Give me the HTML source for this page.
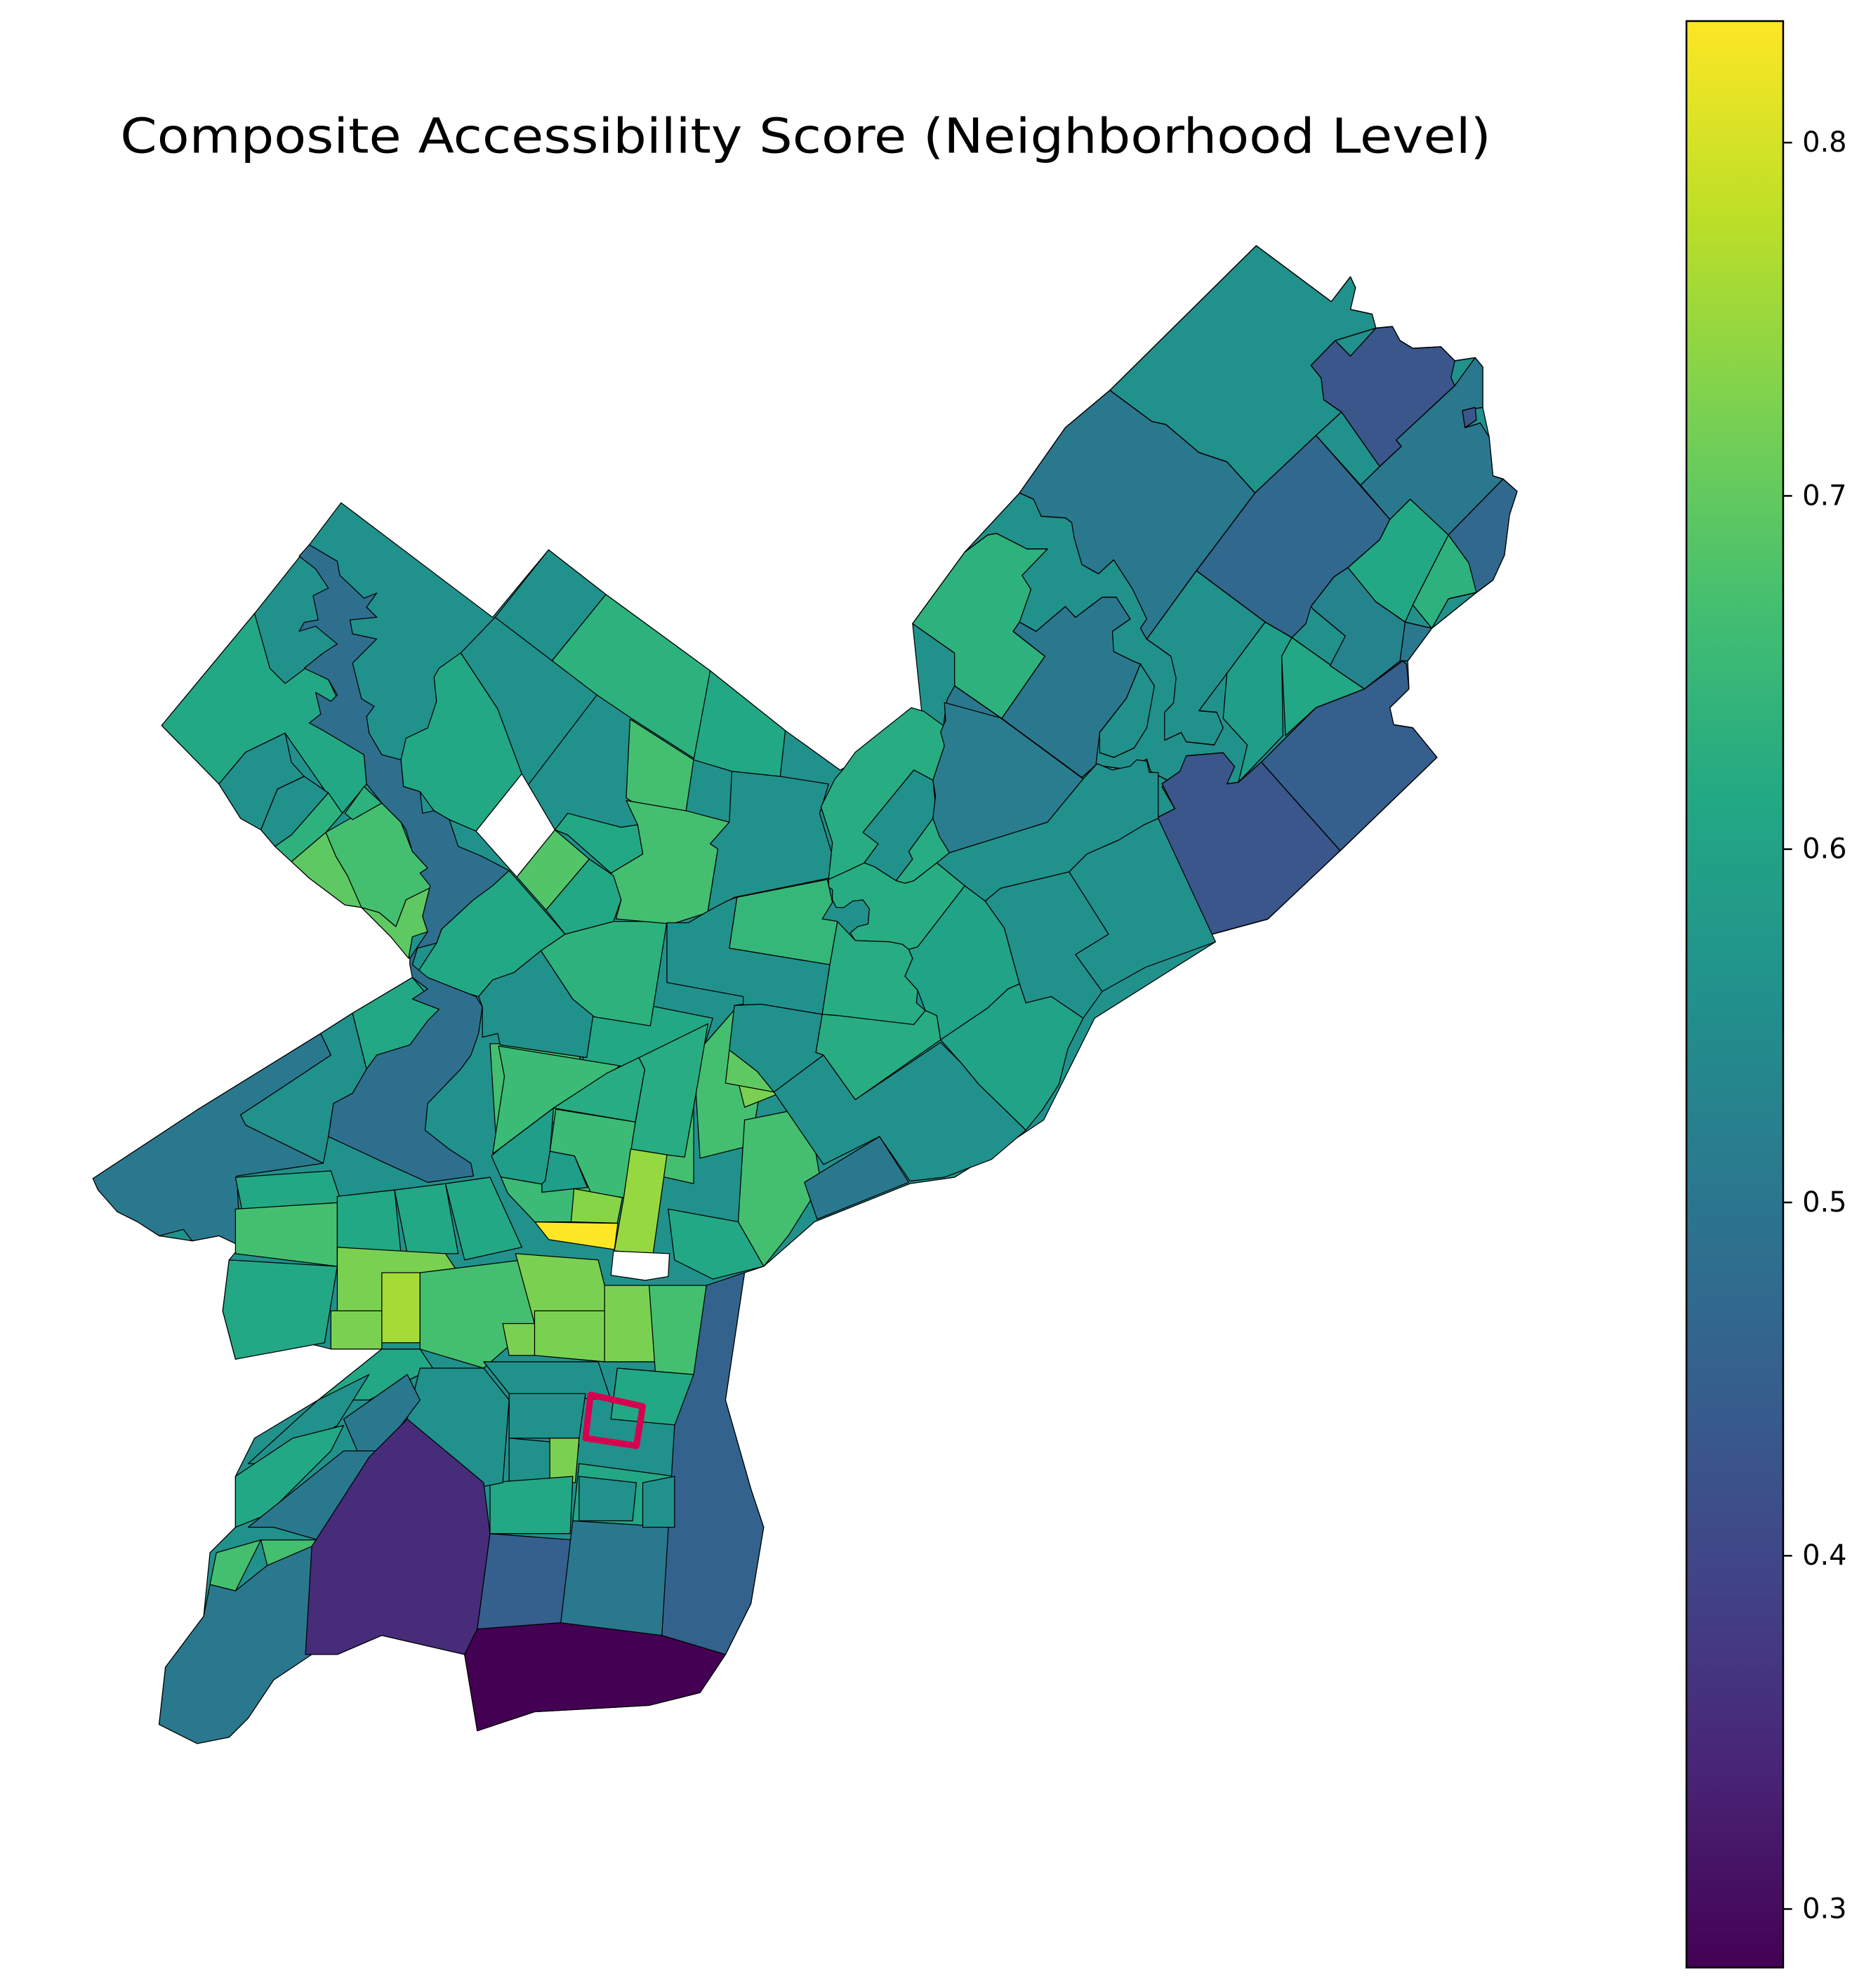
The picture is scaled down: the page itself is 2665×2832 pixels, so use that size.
<!DOCTYPE html>
<html><head><meta charset="utf-8"><style>html,body{margin:0;padding:0;background:#fff}svg{display:block}</style></head>
<body>
<svg width="2665" height="2832" viewBox="0 0 1470 1562" xmlns="http://www.w3.org/2000/svg" font-family="'DejaVu Sans','Liberation Sans',sans-serif">
<defs>
<linearGradient id="vir" x1="0" y1="1" x2="0" y2="0">
<stop offset="0" stop-color="#440154"/><stop offset="0.1" stop-color="#482475"/><stop offset="0.2" stop-color="#414487"/><stop offset="0.3" stop-color="#355f8d"/><stop offset="0.4" stop-color="#2a788e"/><stop offset="0.5" stop-color="#21918c"/><stop offset="0.6" stop-color="#22a884"/><stop offset="0.7" stop-color="#44bf70"/><stop offset="0.8" stop-color="#7ad151"/><stop offset="0.9" stop-color="#bddf26"/><stop offset="1" stop-color="#fde725"/>
</linearGradient>
</defs>
<text x="633" y="120" font-size="38" text-anchor="middle" textLength="1077" lengthAdjust="spacingAndGlyphs">Composite Accessibility Score (Neighborhood Level)</text>
<g stroke="#000" stroke-width="0.7" stroke-linejoin="round">
<!-- base (west/central) -->
<path fill="#21918c" d="M740,545 L800,560 L860,620 L900,660 L955,740 L860,800 L820,880 L790,900 L750,925 L715,930 L640,960 L600,995 L585,1000 L570,1100 L590,1170 L600,1200 L590,1260 L570,1300 L550,1330 L510,1340 L420,1345 L375,1360 L365,1300 L300,1285 L265,1300 L240,1300 L215,1320 L195,1350 L180,1365 L155,1370 L125,1355 L130,1310 L160,1270 L165,1220 L185,1200 L185,1160 L200,1130 L250,1100 L300,1060 L260,1060 L240,1055 L185,1068 L175,1030 L180,990 L189,979 L172,971 L151,975 L125,971 L108,960 L92,952 L73,926 L155,872 L252,812 L277,796 L324,768 L322,753 L307,736 L284,713 L271,711 L243,690 L229,677 L216,665 L205,652 L189,643 L172,616 L127,570 L200,482 L243,428 L268,395 L387,485 L431,432 L476,467 L558,527 L617,574 L660,605 L720,575 Z"/>
<!-- old central middle -->
<path fill="#44bf70" d="M385,820 L450,820 L470,860 L440,880 L390,900 Z"/>
<path fill="#44bf70" d="M440,880 L500,880 L500,940 L450,940 Z"/>
<path fill="#22a884" d="M455,800 L510,790 L560,800 L545,850 L510,880 L460,850 Z"/>
<path fill="#44bf70" d="M500,860 L545,850 L545,930 L500,920 Z"/>
<path fill="#44bf70" d="M545,830 L580,790 L600,840 L590,900 L550,910 Z"/>
<path fill="#7ad151" d="M575,830 L595,840 L610,860 L585,870 Z"/>
<path fill="#44bf70" d="M585,880 L635,870 L645,930 L620,970 L600,995 L580,960 Z"/>
<!-- NE precise (y-corrected) -->
<g transform="translate(0,165.5) scale(1,1.2221) translate(0,-165.5)">
<path fill="#21918c" d="M987,188 L1046,224 L1061,208 L1065,215 L1061,229 L1078,232 L1081,241 L1094,240 L1100,249 L1110,254 L1132,253 L1143,262 L1159,260 L1165,266 L1165,292 L1170,311 L1173,336 L1181,338 L1192,346 L1186,361 L1182,387 L1173,403 L1160,411 L1125,434 L1106,455 L1107,473 L1092,485 L1095,496 L1110,498 L1129,517 L1053,577 L996,621 L951,631 L899,560 L840,590 L774,609 L736,585 L733,558 L717,431 L758,385 L801,347 L837,305 L872,281 Z"/>
<path fill="#21918c" d="M987,188 L1046,224 L1061,208 L1065,215 L1061,229 L1078,232 L1081,241 L1049,249 L1030,265 L1038,273 L1040,287 L1054,295 L1034,310 L986,347 L964,327 L942,321 L916,303 L905,301 L872,281 Z"/>
<path fill="#3a568b" d="M1049,249 L1061,259 L1081,241 L1094,240 L1100,249 L1110,254 L1132,253 L1143,262 L1140,273 L1143,278 L1097,313 L1101,317 L1084,330 L1054,295 L1040,287 L1038,273 L1030,265 Z"/>
<path fill="#21918c" d="M1054,295 L1084,330 L1069,342 L1034,310 Z"/>
<path fill="#2a788e" d="M1143,278 L1159,260 L1165,266 L1165,292 L1149,294 L1151,305 L1163,302 L1170,311 L1173,336 L1181,338 L1138,374 L1092,364 L1069,342 L1084,330 L1101,317 L1097,313 Z"/>
<path fill="#3a568b" d="M1149,294 L1159,292 L1160,300 L1151,305 Z"/>
<path fill="#31688e" d="M1181,338 L1192,346 L1186,361 L1182,387 L1173,403 L1160,411 L1138,374 Z"/>
<path fill="#22a884" d="M1092,364 L1108,351 L1138,374 L1110,419 L1104,430 L1081,417 L1059,395 L1084,377 Z"/>
<path fill="#2db27d" d="M1138,374 L1154,392 L1160,411 L1138,415 L1125,434 L1110,419 Z"/>
<path fill="#31688e" d="M986,347 L1034,310 L1092,364 L1084,377 L1059,395 L1048,401 L1030,420 L1026,431 L1015,440 L994,430 L940,397 Z"/>
<path fill="#2a788e" d="M872,281 L905,301 L916,303 L942,321 L964,327 L986,347 L940,397 L901,441 L896,434 L901,428 L890,409 L875,390 L863,399 L850,393 L844,376 L842,366 L837,363 L818,362 L812,351 L801,347 L837,305 Z"/>
<path fill="#2db27d" d="M776,374 L783,373 L807,383 L823,383 L803,400 L810,409 L801,430 L796,436 L821,452 L787,492 L750,471 L750,450 L717,431 L758,385 Z"/>
<path fill="#2a788e" d="M801,430 L814,436 L837,420 L845,427 L866,414 L877,414 L888,428 L874,436 L875,449 L890,455 L896,457 L885,479 L864,501 L861,522 L850,530 L787,492 L821,452 L796,436 Z"/>
<path fill="#21918c" d="M896,457 L907,471 L901,498 L891,511 L875,517 L864,514 L864,501 L885,479 Z"/>
<path fill="#2a788e" d="M750,471 L787,492 L850,530 L823,560 L745,579 L733,558 L734,533 L742,507 L741,498 L744,480 Z"/>
<path fill="#21918c" d="M850,530 L861,522 L888,525 L901,518 L904,526 L920,533 L913,536 L923,550 L899,560 L872,574 L840,590 L774,609 L736,585 L745,579 L823,560 Z"/>
<path fill="#3a568b" d="M913,534 L927,526 L932,516 L961,514 L970,523 L964,534 L973,533 L991,520 L1053,577 L996,621 L951,631 L899,560 L923,550 Z"/>
<path fill="#355f8d" d="M991,520 L1034,485 L1072,473 L1102,455 L1105,457 L1107,473 L1092,485 L1095,496 L1110,498 L1129,517 L1053,577 Z"/>
<path fill="#21918c" d="M940,397 L994,430 L964,463 L942,487 L956,488 L961,498 L954,509 L932,507 L928,501 L915,506 L915,488 L922,482 L924,466 L920,452 L901,441 Z"/>
<path fill="#1f9e89" d="M994,430 L1015,440 L1007,452 L1008,503 L973,533 L980,509 L961,492 L964,463 Z"/>
<path fill="#22a884" d="M1015,440 L1072,473 L1034,485 L1010,503 L1007,452 Z"/>
<path fill="#25838e" d="M1048,401 L1059,395 L1081,417 L1104,430 L1100,455 L1072,473 L1045,458 L1057,439 L1032,422 L1030,420 Z"/>
<path fill="#2a788e" d="M1104,430 L1125,434 L1106,455 L1100,455 Z"/>
</g>
<!-- NW -->
<path fill="#22a884" d="M127,570 L200,482 L212,525 L224,537 L240,525 L258,534 L286,593 L288,616 L269,639 L258,625 L224,576 L193,591 L172,616 Z"/>
<path fill="#21918c" d="M172,616 L193,591 L224,576 L229,599 L239,610 L218,620 L205,652 L189,643 Z"/>
<path fill="#21918c" d="M205,652 L218,620 L239,610 L258,623 L229,656 L216,665 Z"/>
<path fill="#2db27d" d="M216,665 L229,656 L258,623 L269,639 L256,654 L229,677 Z"/>
<path fill="#5ec962" d="M229,677 L256,654 L264,673 L273,688 L281,699 L286,713 L298,717 L311,728 L319,707 L338,696 L332,720 L336,732 L324,736 L321,753 L307,736 L284,713 L271,711 L243,690 Z"/>
<path fill="#44bf70" d="M256,654 L277,642 L300,631 L315,646 L324,669 L336,682 L330,686 L341,696 L319,707 L311,728 L298,717 L284,713 L273,688 L264,673 Z"/>
<path fill="#2db27d" d="M271,639 L286,618 L300,631 L277,644 Z"/>
<!-- central north -->
<path fill="#22a884" d="M400,684 L444,734 L425,747 L404,764 L387,770 L376,783 L336,772 L328,764 L343,741 L347,730 L372,707 Z"/>
<path fill="#21918c" d="M376,783 L387,770 L404,764 L425,747 L450,785 L467,791 L461,831 L393,821 L391,812 L379,815 L379,791 Z"/>
<path fill="#2db27d" d="M425,747 L444,734 L482,724 L524,724 L511,806 L467,799 L450,785 Z"/>
<path fill="#2db27d" d="M433,520 L476,467 L558,527 L547,597 L497,565 L469,546 Z"/>
<path fill="#21918c" d="M389,485 L431,432 L476,467 L433,520 Z"/>
<path fill="#21918c" d="M362,513 L389,485 L469,546 L414,618 L408,608 L391,557 Z"/>
<path fill="#22a884" d="M345,525 L362,513 L391,557 L410,608 L374,653 L353,644 L341,637 L330,622 L317,618 L315,597 L319,580 L336,572 L343,551 L341,532 Z"/>
<path fill="#44bf70" d="M495,565 L545,597 L539,637 L505,635 L492,627 Z"/>
<path fill="#44bf70" d="M492,629 L539,637 L573,646 L558,663 L564,667 L556,717 L528,726 L484,722 L488,707 L480,686 L505,671 L501,648 Z"/>
<path fill="#22a884" d="M446,639 L488,650 L501,648 L505,671 L480,686 L446,656 L436,652 Z"/>
<path fill="#52c569" d="M406,689 L436,652 L463,675 L429,715 Z"/>
<path fill="#22a884" d="M429,715 L463,675 L482,688 L488,707 L482,724 L444,734 Z"/>
<path fill="#21918c" d="M558,663 L573,646 L575,606 L613,610 L651,616 L644,639 L657,682 L651,690 L577,705 L556,717 L564,667 Z"/>
<path fill="#22a884" d="M545,597 L558,527 L617,574 L613,610 L575,606 Z"/>
<!-- east-central precise -->
<path fill="#27ad81" d="M662,605 L672,591 L716,556 L726,559 L741,570 L742,586 L733,613 L718,605 L678,654 L690,663 L679,678 L662,686 L651,691 L654,662 L645,634 L651,622 L656,612 Z"/>
<path fill="#21918c" d="M678,654 L718,605 L733,613 L735,633 L733,643 L714,669 L717,675 L704,692 L687,681 L679,678 L690,663 Z"/>
<path fill="#27ad81" d="M733,643 L746,670 L736,678 L718,692 L711,694 L704,692 L717,675 L714,669 Z"/>
<path fill="#2a7d8e" d="M742,552 L786,564 L851,612 L823,646 L746,670 L738,657 L733,643 L735,625 L733,613 L742,586 L739,575 L743,566 Z"/>
<path fill="#21918c" d="M736,678 L746,670 L823,646 L851,612 L862,600 L874,605 L888,602 L893,597 L901,598 L903,607 L910,607 L910,643 L899,648 L879,660 L854,671 L840,685 L786,698 L774,708 L758,696 Z"/>
<path fill="#27ad81" d="M651,691 L662,686 L679,678 L687,681 L704,692 L711,694 L718,692 L736,678 L758,696 L721,744 L714,746 L709,742 L699,740 L672,739 L668,733 L674,728 L682,726 L683,714 L678,707 L670,708 L663,713 L657,713 L654,707 L654,699 L651,697 Z"/>
<path fill="#35b779" d="M579,705 L650,691 L654,709 L646,722 L658,724 L652,758 L573,745 Z"/>
<path fill="#21918c" d="M524,725 L541,725 L556,716 L571,708 L579,705 L573,745 L652,758 L646,797 L598,789 L577,790 L584,789 L584,783 L524,772 Z"/>
<path fill="#27ad81" d="M652,758 L658,724 L672,739 L699,740 L709,742 L714,746 L717,753 L711,767 L721,778 L720,788 L727,794 L718,805 L684,804 L679,805 L659,803 L659,798 L646,797 Z"/>
<path fill="#20a386" d="M714,746 L721,744 L758,696 L774,708 L789,729 L801,773 L792,777 L776,792 L739,817 L736,798 L727,794 L721,778 L711,767 L717,753 Z"/>
<path fill="#21918c" d="M774,708 L786,698 L840,685 L871,734 L845,750 L866,779 L851,800 L826,783 L806,788 L801,773 L789,729 Z"/>
<path fill="#21918c" d="M840,685 L854,671 L879,660 L899,648 L910,643 L955,740 L900,760 L866,779 L845,750 L871,734 Z"/>
<path fill="#20a386" d="M801,773 L806,788 L826,783 L851,800 L839,824 L832,852 L819,872 L806,888 L769,852 L755,835 L739,817 L776,792 L792,777 Z"/>
<path fill="#21918c" d="M739,819 L755,835 L769,852 L806,888 L779,911 L742,925 L715,928 L691,893 L647,915 L608,858 L647,829 L672,864 Z"/>
<path fill="#27ad81" d="M641,827 L646,797 L659,798 L718,805 L727,794 L736,798 L739,817 L672,864 L647,829 Z"/>
<path fill="#21918c" d="M577,790 L598,789 L646,797 L641,827 L647,829 L608,858 L595,842 L573,825 Z"/>
<path fill="#5ec962" d="M573,825 L595,842 L608,858 L570,851 Z"/>
<!-- west -->
<path fill="#2a788e" d="M73,926 L155,872 L252,812 L260,829 L224,853 L189,876 L193,884 L254,914 L186,924 L189,979 L172,971 L151,975 L144,966 L125,971 L108,960 L92,952 L77,935 Z"/>
<path fill="#21918c" d="M189,876 L224,853 L260,829 L252,812 L277,796 L288,840 L277,859 L262,867 L258,893 L254,914 L193,884 Z"/>
<path fill="#22a884" d="M277,796 L324,768 L345,793 L336,808 L324,821 L296,829 L288,840 Z"/>
<!-- center precise -->
<path fill="#3bbb75" d="M391.7,821.9 L487.3,837.5 L434.9,870.6 L393.5,901.9 L387.1,906.4 L396.3,845.8 Z"/>
<path fill="#1f9e89" d="M386.1,908.3 L393.5,901.9 L434.9,870.6 L432.1,904.6 L428.4,927.6 L425.7,930.4 L393.5,924.8 Z"/>
<path fill="#27ad81" d="M434.9,870.6 L477.2,843 L502,831 L506.6,840.2 L499.2,881.6 Z"/>
<path fill="#27ad81" d="M502,831 L556.2,804.4 L548.9,847.6 L537.9,909.2 L524,907.4 L495.5,902.8 L506.6,840.2 Z"/>
<path fill="#3bbb75" d="M436.7,871.5 L499.2,881.6 L490,941 L464.3,937.3 L451.4,908.3 L432.1,904.6 Z"/>
<path fill="#1f9e89" d="M432.1,904.6 L451.4,908.3 L461.5,933.1 L451.4,934 L425.7,936.8 L425.7,930.4 L428.4,927.6 Z"/>
<path fill="#3bbb75" d="M393.5,924.8 L425.7,930.4 L425.7,936.8 L451.4,934 L448.7,960.1 L420.2,960.1 L399,937.7 Z"/>
<path fill="#86d549" d="M451,934 L489,941 L485,961 L448.7,960 Z"/>
<!-- river -->
<path fill="#2e6f8e" d="M243,428 L265,441 L267,452 L286,470 L296,466 L288,477 L296,485 L275,487 L277,498 L296,502 L277,521 L284,549 L294,555 L288,563 L290,576 L300,593 L315,597 L317,618 L330,622 L332,639 L341,637 L353,644 L360,665 L379,673 L400,684 L387,696 L372,707 L347,730 L343,741 L328,745 L324,758 L336,768 L374,783 L379,791 L376,812 L370,829 L362,840 L336,867 L334,888 L353,903 L370,914 L372,924 L336,929 L303,914 L258,893 L262,867 L277,859 L288,840 L296,829 L322,821 L336,802 L345,793 L324,785 L336,777 L324,768 L322,758 L322,753 L336,732 L332,720 L338,696 L330,686 L336,682 L324,669 L319,652 L315,646 L300,631 L288,616 L286,593 L254,574 L243,568 L252,561 L248,544 L260,551 L265,546 L258,534 L239,525 L254,513 L265,506 L248,492 L235,496 L239,489 L250,487 L246,468 L258,462 L248,447 L235,437 Z"/>
<!-- center south area -->
<path fill="#22a884" d="M185,925 L260,920 L270,950 L190,950 Z"/>
<path fill="#44bf70" d="M185,950 L265,945 L265,995 L185,985 Z"/>
<path fill="#22a884" d="M180,990 L265,995 L255,1055 L185,1068 L175,1030 Z"/>
<path fill="#22a884" d="M265,940 L310,935 L315,985 L265,985 Z"/>
<path fill="#22a884" d="M310,935 L350,930 L360,985 L320,985 Z"/>
<path fill="#22a884" d="M350,930 L385,925 L410,980 L365,990 Z"/>
<path fill="#95d840" d="M495.5,902.8 L524,907.4 L513,985.9 L482.7,982.8 L490,941.4 Z"/>
<path fill="#fde725" d="M420.2,960.1 L485.4,961.2 L482.7,981.8 L431.2,974 Z"/>
<path fill="#22a884" d="M525,950 L580,960 L600,995 L560,1005 L530,990 Z"/>
<path fill="#2a788e" d="M632,929 L691,893 L714,929 L642,958 Z"/>
<path fill="#7ad151" d="M265,980 L350,985 L360,1000 L320,1040 L265,1045 Z"/>
<path fill="#a5db36" d="M300,1000 L330,1000 L330,1055 L300,1055 Z"/>
<path fill="#7ad151" d="M260,1030 L300,1030 L300,1060 L260,1060 Z"/>
<path fill="#44bf70" d="M330,1000 L410,990 L420,1040 L380,1075 L330,1060 Z"/>
<path fill="#7ad151" d="M405,985 L470,990 L480,1030 L420,1040 Z"/>
<path fill="#7ad151" d="M420,1030 L480,1030 L475,1070 L420,1065 Z"/>
<path fill="#7ad151" d="M475,1010 L520,1010 L520,1070 L475,1070 Z"/>
<path fill="#44bf70" d="M510,1010 L555,1010 L550,1080 L515,1080 Z"/>
<path fill="#7ad151" d="M395,1040 L420,1040 L420,1065 L400,1065 Z"/>
<path fill="#21918c" d="M380,1070 L470,1070 L480,1100 L400,1095 Z"/>
<path fill="#22a884" d="M485,1075 L545,1080 L535,1120 L480,1115 Z"/>
<path fill="#21918c" d="M400,1095 L460,1095 L455,1130 L400,1130 Z"/>
<path fill="#21918c" d="M400,1130 L455,1135 L450,1160 L400,1165 Z"/>
<path fill="#7ad151" d="M432,1130 L455,1130 L452,1165 L432,1165 Z"/>
<path fill="#22a884" d="M455,1150 L530,1160 L525,1200 L450,1195 Z"/>
<path fill="#21918c" d="M455,1160 L500,1165 L497,1195 L455,1195 Z"/>
<path fill="#22a884" d="M385,1165 L450,1160 L448,1205 L385,1205 Z"/>
<path fill="#22a884" d="M300,1060 L330,1060 L340,1075 L290,1100 L250,1100 Z"/>
<path fill="#21918c" d="M330,1075 L380,1075 L400,1100 L395,1165 L370,1170 L320,1115 Z"/>
<path fill="#2a788e" d="M320,1080 L330,1100 L300,1140 L285,1150 L270,1115 Z"/>
<path fill="#21918c" d="M250,1100 L290,1080 L265,1120 L215,1150 L195,1150 Z"/>
<path fill="#22a884" d="M185,1160 L230,1130 L270,1120 L260,1140 L210,1190 L185,1200 Z"/>
<path fill="#2a788e" d="M195,1200 L270,1140 L300,1140 L270,1180 L250,1210 L215,1200 Z"/>
<path fill="#44bf70" d="M205,1210 L250,1210 L230,1240 L210,1230 Z"/>
<path fill="#44bf70" d="M170,1220 L205,1210 L185,1250 L165,1245 Z"/>
<path fill="#2a788e" d="M125,1355 L130,1310 L160,1270 L165,1245 L185,1250 L210,1230 L245,1215 L265,1220 L245,1300 L215,1320 L195,1350 L180,1365 L155,1370 Z"/>
<!-- south -->
<path fill="#472c7a" d="M245,1215 L290,1145 L320,1115 L380,1165 L385,1205 L375,1280 L365,1300 L300,1285 L265,1300 L240,1300 Z"/>
<path fill="#355f8d" d="M385,1205 L450,1210 L440,1280 L375,1280 Z"/>
<path fill="#2a788e" d="M450,1195 L530,1200 L520,1285 L440,1280 Z"/>
<path fill="#33638d" d="M585,1000 L570,1100 L590,1170 L600,1200 L590,1260 L570,1300 L520,1285 L530,1120 L545,1080 L555,1010 Z"/>
<path fill="#440154" d="M375,1280 L440,1275 L520,1285 L570,1300 L550,1330 L510,1340 L420,1345 L375,1360 L365,1300 Z"/>
<path fill="#21918c" d="M505,1165 L530,1160 L530,1200 L505,1200 Z"/>
<!-- white holes -->
<path fill="#fff" d="M374,653 L410,608 L436,652 L406,689 Z"/>
<path fill="#fff" d="M482,983 L526,985 L525,1003 L507,1006 L480,1002 Z"/>
</g>
<path fill="none" stroke="#d6004f" stroke-width="5" stroke-linejoin="round" d="M464,1096 L505,1105 L500,1136 L460,1130 Z"/>
<!-- colorbar -->
<rect x="1325" y="16.5" width="76" height="1529.5" fill="url(#vir)" stroke="#000" stroke-width="1.4"/>
<g stroke="#000" stroke-width="1.4">
<line x1="1401" y1="112" x2="1408" y2="112"/><line x1="1401" y1="389.6" x2="1408" y2="389.6"/><line x1="1401" y1="667.2" x2="1408" y2="667.2"/><line x1="1401" y1="944.8" x2="1408" y2="944.8"/><line x1="1401" y1="1222.4" x2="1408" y2="1222.4"/><line x1="1401" y1="1500" x2="1408" y2="1500"/>
</g>
<g font-size="22" dominant-baseline="central">
<text x="1416" y="112">0.8</text><text x="1416" y="389.6">0.7</text><text x="1416" y="667.2">0.6</text><text x="1416" y="944.8">0.5</text><text x="1416" y="1222.4">0.4</text><text x="1416" y="1500">0.3</text>
</g>
</svg>
</body></html>
